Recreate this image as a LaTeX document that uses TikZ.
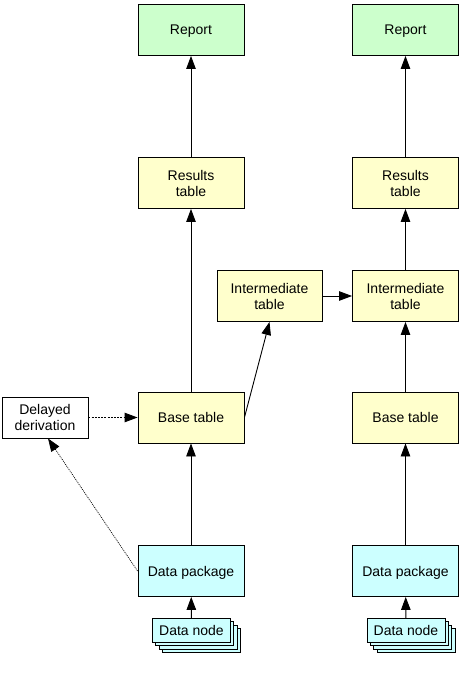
\documentclass[tikz,border=0pt]{standalone}
\usepackage{fontspec}
\setmainfont{Liberation Sans}
\usetikzlibrary{arrows.meta,calc}
\definecolor{repgreen}{HTML}{CCFFCC}
\definecolor{tabyellow}{HTML}{FFFFCC}
\definecolor{datcyan}{HTML}{CCFFFF}
\begin{document}
\begin{tikzpicture}[x=1pt,y=-1pt,
  box/.style={draw, line width=0.9pt, minimum width=106pt, minimum height=51pt, inner sep=2pt, align=center, text depth=0pt, font=\fontsize{14}{16}\selectfont},
  repbox/.style={box, fill=repgreen},
  tabbox/.style={box, fill=tabyellow},
  datbox/.style={box, fill=datcyan},
  nodebox/.style={draw, line width=0.9pt, fill=datcyan, minimum width=78pt, minimum height=24pt, inner sep=1pt, text depth=0pt, font=\fontsize{14}{16}\selectfont},
  delbox/.style={box, fill=white, minimum width=86pt, minimum height=41pt},
  arr/.style={-{Triangle[length=13pt,width=9.5pt]}, line width=0.9pt},
  dasharr/.style={arr, dash pattern=on 2pt off 1.2pt},
  dotarr/.style={arr, line width=0.7pt, dash pattern=on 1pt off 1pt}]
\useasboundingbox (0,0) rectangle (462,673);
% left column
\node[repbox] (rep1) at (191,30) {Report};
\node[tabbox] (res1) at (191,183) {Results\\table};
\node[tabbox] (base1) at (191,417.5) {Base table};
\node[datbox] (dp1) at (191,571) {Data package};
\node[nodebox] (dn1d) at (201.5,640.5) {};
\node[nodebox] (dn1c) at (198.2,637.2) {};
\node[nodebox] (dn1b) at (194.8,633.8) {};
\node[nodebox] (dn1) at (191.5,630.5) {Data node};
\node[tabbox, minimum width=105pt] (int1) at (269.5,296) {Intermediate\\table};
\node[delbox] (dd) at (45,417.5) {Delayed\\derivation};
% right column
\node[repbox] (rep2) at (405.5,30) {Report};
\node[tabbox] (res2) at (405.5,183) {Results\\table};
\node[tabbox] (int2) at (405.5,296) {Intermediate\\table};
\node[tabbox] (base2) at (405.5,417.5) {Base table};
\node[datbox] (dp2) at (405.5,571) {Data package};
\node[nodebox] (dn2d) at (416,640.5) {};
\node[nodebox] (dn2c) at (412.7,637.2) {};
\node[nodebox] (dn2b) at (409.3,633.8) {};
\node[nodebox] (dn2) at (406,630.5) {Data node};
% connectors left
\draw[arr] (dn1) -- (dp1);
\draw[arr] (dp1) -- (base1);
\draw[arr] (base1) -- (res1);
\draw[arr] (res1) -- (rep1);
\draw[arr] (base1.east) -- (int1.south);
\draw[arr] (int1.east) -- (int2.west);
\draw[dasharr] (dd.east) -- (base1.west);
\draw[dotarr] (dp1.west) -- ($(dd.south west)!0.535!(dd.south east)$);
% connectors right
\draw[arr] (dn2) -- (dp2);
\draw[arr] (dp2) -- (base2);
\draw[arr] (base2) -- (int2);
\draw[arr] (int2) -- (res2);
\draw[arr] (res2) -- (rep2);
\end{tikzpicture}
\end{document}
